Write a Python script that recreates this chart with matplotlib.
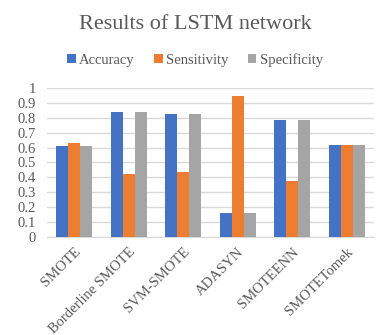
import numpy as np
import matplotlib.pyplot as plt

# Data
methods = ["SMOTE", "Borderline SMOTE", "SVM-SMOTE", "ADASYN", "SMOTEENN", "SMOTETomek"]
accuracy = [0.61, 0.84, 0.826, 0.161, 0.785, 0.617]
sensitivity = [0.633, 0.423, 0.436, 0.948, 0.376, 0.617]
specificity = [0.61, 0.84, 0.826, 0.161, 0.785, 0.617]
yticks = [0, 0.1, 0.2, 0.3, 0.4, 0.5, 0.6, 0.7, 0.8, 0.9, 1]
ytick_labels = ["0", "0.1", "0.2", "0.3", "0.4", "0.5", "0.6", "0.7", "0.8", "0.9", "1"]

plt.rcParams['font.family'] = ['Liberation Serif', 'DejaVu Serif']

fig = plt.figure(figsize=(3.9, 3.35), dpi=100)
ax = fig.add_axes([0.12, 0.293, 0.839, 0.444])

x = np.arange(len(methods))
w = 0.22
ax.bar(x - w, accuracy, w, color="#4472C4", label="Accuracy", zorder=3)
ax.bar(x, sensitivity, w, color="#ED7D31", label="Sensitivity", zorder=3)
ax.bar(x + w, specificity, w, color="#A5A5A5", label="Specificity", zorder=3)

ax.set_xlim(-0.5, len(methods) - 0.5)
ax.set_ylim(0, 1)
ax.set_yticks(yticks)
ax.set_yticklabels(ytick_labels, fontsize=10.5, color="#595959")
ax.set_xticks(x)
ax.set_xticklabels(methods, rotation=45, ha="right", rotation_mode="anchor",
                   fontsize=10.5, color="#595959")
ax.tick_params(axis="y", length=0, pad=8)
ax.tick_params(axis="x", length=0, pad=6)
ax.grid(axis="y", color="#D9D9D9", linewidth=1, zorder=0)
for s in ["top", "right", "left"]:
    ax.spines[s].set_visible(False)
ax.spines["bottom"].set_color("#D9D9D9")

fig.text(0.5, 0.927, "Results of LSTM network", ha="center", va="center",
         fontsize=16, color="#595959")
fig.legend(loc="center", bbox_to_anchor=(0.5, 0.822), ncol=3, frameon=False,
           fontsize=10.5, labelcolor="#595959", handlelength=0.6, handleheight=0.6,
           handletextpad=0.25, columnspacing=1.3)

fig.savefig("out.png", dpi=100)
